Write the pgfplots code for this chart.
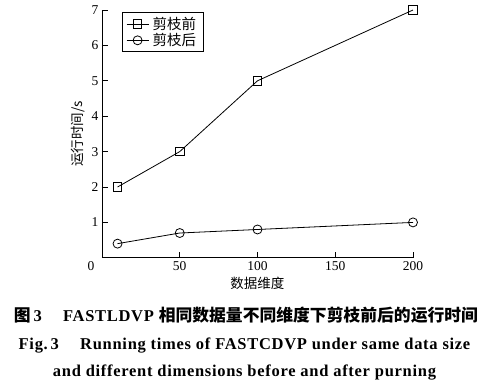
\documentclass[border=0pt]{standalone}
\usepackage{pgfplots}
\pgfplotsset{compat=1.18}
\usepackage{fontspec}
\setmainfont{Liberation Serif}
\newfontfamily\capfont[LetterSpace=4.3]{Liberation Serif}
\newfontfamily\cjk{Noto Sans CJK SC}
\begin{document}
\begin{tikzpicture}[x=1pt,y=1pt]
\useasboundingbox (-102,-128.2) rectangle (386,257.8);
\begin{axis}[
 at={(0,0)}, anchor=south west,
 scale only axis, width=311pt, height=247.8pt,
 xmin=0, xmax=200, ymin=0, ymax=7,
 axis lines=left, axis line style={-, line width=0.8pt},
 tick align=inside, major tick length=6pt,
 every tick/.style={line width=0.8pt},
 xtick={50,100,150,200}, ytick={1,2,3,4,5,6,7},
 extra x ticks={0},
 extra x tick style={major tick length=0pt, xticklabel style={xshift=-11pt}},
 /pgf/number format/assume math mode=true,
 tick label style={font=\fontsize{13.5}{13.5}\selectfont},
 xlabel={\cjk 数据维度}, ylabel={\cjk 运行时间/s},
 label style={font=\fontsize{13.5}{13.5}\selectfont},
 legend style={at={(0.0653,0.9907)}, anchor=north west, draw=black, line width=0.8pt,
   font=\fontsize{14.5}{15}\selectfont, inner xsep=3.5pt, inner ysep=2.5pt, row sep=-1.5pt,
   nodes={inner xsep=3.5pt}},
 legend image code/.code={\draw[mark repeat=2,mark phase=2] plot coordinates {(0pt,0pt)(11pt,0pt)(22pt,0pt)};},
 legend cell align=left,
 clip=false,
]
\addplot[black, line width=0.8pt, mark=square, mark size=4.2pt, mark options={line width=0.8pt, fill=white}]
 coordinates {(10,2) (50,3) (100,5) (200,7)};
\addlegendentry{\cjk 剪枝前}
\addplot[black, line width=0.8pt, mark=o, mark size=4.5pt, mark options={line width=0.8pt, fill=white}]
 coordinates {(10,0.4) (50,0.7) (100,0.8) (200,1.0)};
\addlegendentry{\cjk 剪枝后}
\end{axis}
\node[anchor=base, font=\fontsize{16.5}{17}\selectfont\capfont\bfseries] at (144,-63.2)
 {{\cjk\bfseries\fontsize{16.8}{17}\selectfont 图}\,3\quad\ FASTLDVP {\cjk\bfseries\fontsize{16.8}{17}\selectfont 相同数据量不同维度下剪枝前后的运行时间}};
\node[anchor=base, font=\fontsize{16.5}{17}\selectfont\capfont\bfseries] at (142.5,-91.2)
 {Fig.\,3\quad\ Running times of FASTCDVP under same data size};
\node[anchor=base, font=\fontsize{16.5}{17}\selectfont\capfont\bfseries] at (142.5,-118.2)
 {and different dimensions before and after purning};
\end{tikzpicture}
\end{document}
